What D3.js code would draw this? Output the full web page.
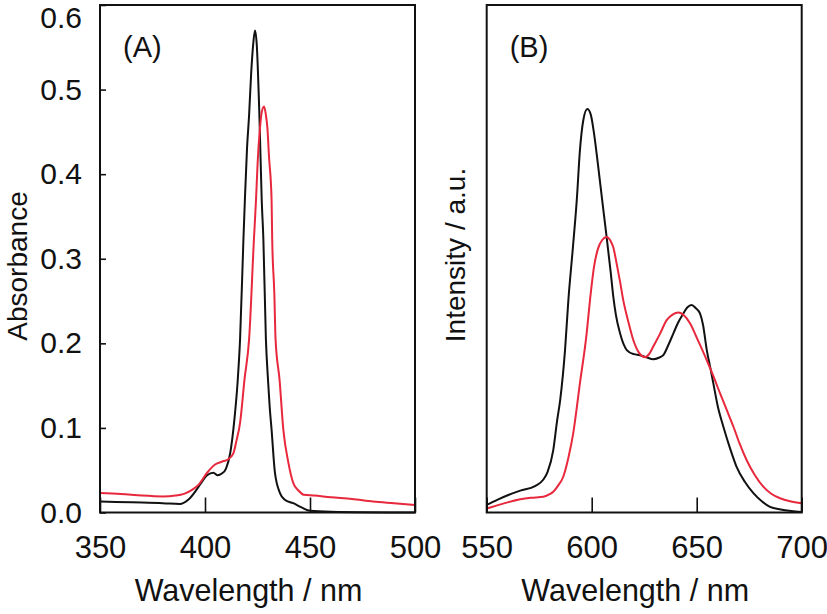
<!DOCTYPE html>
<html>
<head>
<meta charset="utf-8">
<script src="https://cdn.jsdelivr.net/npm/d3@7"></script>
<style>
  body { margin: 0; background: #fff; }
  text { font-family: "Liberation Sans", Arial, sans-serif; fill: #111; }
</style>
</head>
<body>
<svg id="spectra"></svg>
<script>
// (A) absorption spectra
const absBlackWl = [350, 365, 380, 388, 392, 396, 399, 401, 404, 406, 408, 410, 412, 414, 415.6, 416.7, 418.3, 419, 420, 421, 422, 423, 423.8, 424.6, 425.9, 427, 427.8, 429, 430, 430.8, 431.7, 433.3, 435.7, 438, 442, 446, 450, 460, 500];
const absBlack   = [0.013, 0.012, 0.011, 0.010, 0.015, 0.027, 0.038, 0.044, 0.047, 0.044, 0.046, 0.052, 0.070, 0.110, 0.157, 0.205, 0.323, 0.370, 0.430, 0.470, 0.520, 0.555, 0.570, 0.555, 0.470, 0.370, 0.323, 0.205, 0.157, 0.125, 0.098, 0.047, 0.023, 0.015, 0.011, 0.006, 0.002, 0.001, 0.000];
const absRedWl = [350, 360, 370, 380, 386, 390, 394, 397, 401, 405, 408, 411, 413.5, 415, 416.7, 418.8, 421, 423.3, 424.3, 425, 426.2, 427, 428.1, 429, 429.7, 430.5, 431.7, 432, 433, 433.6, 435.5, 437.3, 439.7, 442, 444.5, 447, 452, 460, 470, 480, 490, 500];
const absRed   = [0.023, 0.022, 0.020, 0.019, 0.020, 0.022, 0.027, 0.033, 0.047, 0.057, 0.060, 0.063, 0.070, 0.085, 0.106, 0.157, 0.205, 0.323, 0.370, 0.410, 0.455, 0.473, 0.480, 0.470, 0.455, 0.420, 0.370, 0.323, 0.260, 0.205, 0.157, 0.098, 0.059, 0.035, 0.026, 0.021, 0.020, 0.018, 0.016, 0.013, 0.011, 0.009];

// (B) emission spectra, arbitrary units
const emBlackWl = [550, 555, 560, 566, 573, 577, 579, 581.7, 583.5, 585, 587.3, 588.9, 591, 592.9, 594.4, 596, 597.9, 599.5, 601, 603, 605, 607.1, 609, 610.3, 611.5, 613.5, 616.7, 620, 623, 626, 629.3, 632, 634.1, 636.5, 638.9, 641, 643.6, 645.5, 647.6, 649.5, 651.6, 653, 654.8, 656.5, 657.9, 660, 662.7, 666, 669, 673, 677, 681, 684.9, 690, 695, 700];
const emBlack   = [0.015, 0.025, 0.034, 0.043, 0.052, 0.065, 0.080, 0.123, 0.180, 0.222, 0.320, 0.419, 0.520, 0.616, 0.714, 0.773, 0.795, 0.785, 0.750, 0.685, 0.615, 0.543, 0.475, 0.425, 0.390, 0.353, 0.320, 0.312, 0.310, 0.306, 0.302, 0.305, 0.310, 0.330, 0.353, 0.373, 0.392, 0.404, 0.409, 0.403, 0.392, 0.370, 0.320, 0.285, 0.255, 0.210, 0.169, 0.125, 0.090, 0.060, 0.038, 0.022, 0.011, 0.006, 0.003, 0.001];
const emRedWl = [550, 555, 560, 566, 571, 577, 580, 581.7, 584, 586.5, 589, 591.2, 594.4, 597.6, 599.2, 601.1, 603, 605, 607.1, 609, 610.3, 611.9, 613.5, 615, 617.5, 619.8, 622.5, 625.4, 627.5, 629.3, 632.5, 635.7, 638.5, 641.3, 644, 646.8, 650.5, 654.8, 658, 661.1, 664.3, 667.5, 670.5, 673.8, 677.5, 681.7, 685.5, 689.7, 694.5, 700];
const emRed   = [0.008, 0.014, 0.020, 0.026, 0.029, 0.031, 0.036, 0.041, 0.053, 0.071, 0.110, 0.156, 0.255, 0.353, 0.419, 0.484, 0.520, 0.537, 0.543, 0.535, 0.522, 0.490, 0.455, 0.419, 0.375, 0.340, 0.315, 0.306, 0.313, 0.327, 0.352, 0.379, 0.390, 0.394, 0.388, 0.373, 0.340, 0.300, 0.268, 0.235, 0.202, 0.169, 0.135, 0.103, 0.075, 0.051, 0.037, 0.028, 0.022, 0.018];

const absYTicks = [0, 0.1, 0.2, 0.3, 0.4, 0.5, 0.6];
const absXTicks = [350, 400, 450, 500];
const emXTicks = [550, 600, 650, 700];

const WIDTH = 827, HEIGHT = 614;
const plotTop = 5, plotBottom = 512.5;
const RED = "#e8283c";

const svg = d3.select("svg#spectra")
                .attr("width", WIDTH)
                .attr("height", HEIGHT);

const zip = (xs, ys) => xs.map((x, i) => ({ x: x, y: ys[i] }));

const drawPanel = (opts) => {
    const xScale = d3.scaleLinear()
                    .domain(opts.xDomain)
                    .range([opts.left, opts.right]);

    const yScale = d3.scaleLinear()
                    .domain(opts.yDomain)
                    .range([plotBottom, plotTop]);

    const g = svg.append("g");

    const line = d3.line()
                    .x((d) => xScale(d.x))
                    .y((d) => yScale(d.y))
                    .curve(d3.curveMonotoneX);

    opts.series.forEach((s) => {
        g.append("path")
            .datum(s.data)
            .attr("d", line)
            .attr("fill", "none")
            .attr("stroke", s.color)
            .attr("stroke-width", 2)
            .attr("stroke-linejoin", "round");
    })

    const xAxis = g.append("g")
                    .attr("transform", `translate(0, ${plotBottom})`)
                    .call(d3.axisBottom(xScale)
                            .tickValues(opts.xTicks)
                            .tickSize(-15)
                            .tickPadding(23)
                            .tickFormat(d3.format("d")));
    xAxis.select(".domain").remove();
    xAxis.selectAll("line").attr("stroke", "#111").attr("stroke-width", 1.6);
    xAxis.selectAll("text")
            .style("font-size", "31px")
            .style("font-family", "'Liberation Sans', Arial, sans-serif")
            .attr("fill", "#111");

    if (opts.yTicks) {
        const yAxis = g.append("g")
                        .attr("transform", `translate(${opts.left}, 0)`)
                        .call(d3.axisLeft(yScale)
                                .tickValues(opts.yTicks)
                                .tickSize(-6)
                                .tickPadding(18)
                                .tickFormat(d3.format(".1f")));
        yAxis.select(".domain").remove();
        yAxis.selectAll("line").attr("stroke", "#111").attr("stroke-width", 1.6);
        yAxis.selectAll("text")
                .style("font-size", "30px")
                .style("font-family", "'Liberation Sans', Arial, sans-serif")
                .attr("fill", "#111")
                // keep the top label inside the picture
                .attr("y", (d) => Math.max(0, 18 - yScale(d)));
    }

    g.append("rect")
        .attr("x", opts.left)
        .attr("y", plotTop)
        .attr("width", opts.right - opts.left)
        .attr("height", plotBottom - plotTop)
        .attr("fill", "none")
        .attr("stroke", "#111")
        .attr("stroke-width", 2);

    g.append("text")
        .attr("x", opts.left + 23)
        .attr("y", 57)
        .style("font-size", "29px")
        .text(opts.tag);

    g.append("text")
        .attr("x", (opts.left + opts.right) / 2 - 9)
        .attr("y", 601)
        .style("text-anchor", "middle")
        .style("font-size", "30.5px")
        .text("Wavelength / nm");

    g.append("text")
        .attr("transform", `translate(${opts.yLabelX}, ${opts.yLabelY}) rotate(-90)`)
        .style("text-anchor", "middle")
        .style("font-size", "28px")
        .text(opts.yLabel);
}

drawPanel({
    left: 100, right: 415,
    xDomain: [350, 500], yDomain: [0, 0.6],
    xTicks: absXTicks, yTicks: absYTicks,
    tag: "(A)",
    yLabel: "Absorbance", yLabelX: 27, yLabelY: 266,
    series: [
        { data: zip(absBlackWl, absBlack), color: "#111" },
        { data: zip(absRedWl, absRed), color: RED }
    ]
});

drawPanel({
    left: 486.7, right: 801.7,
    xDomain: [550, 700], yDomain: [0, 1],
    xTicks: emXTicks, yTicks: null,
    tag: "(B)",
    yLabel: "Intensity / a.u.", yLabelX: 465, yLabelY: 255,
    series: [
        { data: zip(emBlackWl, emBlack), color: "#111" },
        { data: zip(emRedWl, emRed), color: RED }
    ]
});
</script>
</body>
</html>
